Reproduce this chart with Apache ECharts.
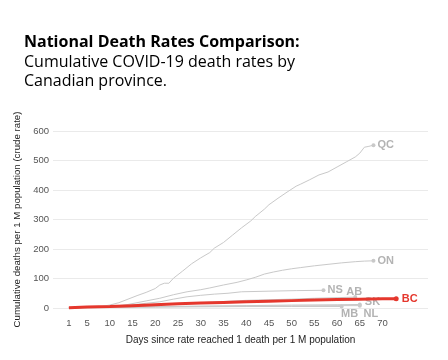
<!DOCTYPE html>
<html>
<head>
<meta charset="utf-8">
<script src="https://cdn.jsdelivr.net/npm/echarts@6/dist/echarts.min.js"></script>
<style>html,body{margin:0;padding:0;background:#fff}#c{width:448px;height:360px}</style>
</head>
<body>
<div id="c"></div>
<script>
// Data
const xTickLabels = [1, 5, 10, 15, 20, 25, 30, 35, 40, 45, 50, 55, 60, 65, 70];
const yTickLabels = [0, 100, 200, 300, 400, 500, 600];

const qcDays = [1, 5, 8, 10, 12, 14, 16, 18, 20, 21, 22, 23, 24, 26, 28, 30, 32, 33, 35, 37, 39, 41, 42, 44, 45, 47, 49, 51, 52, 54, 56, 58, 60, 62, 64, 65, 66, 67, 68];
const qcVals = [1, 2, 5, 10, 18, 30, 42, 53, 66, 78, 84, 84, 101, 125, 150, 170, 188, 203, 222, 247, 272, 295, 310, 335, 350, 372, 393, 413, 420, 435, 451, 461, 478, 495, 512, 525, 545, 548, 552];

const onDays = [1, 6, 10, 14, 18, 21, 24, 27, 30, 32, 35, 38, 40, 42, 44, 46, 48, 50, 52, 55, 58, 61, 64, 66, 68];
const onVals = [1, 2, 4, 12, 24, 33, 45, 55, 62, 68, 78, 87, 95, 104, 115, 122, 128, 133, 137, 143, 148, 153, 157, 159, 160];

const nsDays = [1, 6, 10, 14, 18, 21, 24, 27, 30, 33, 36, 39, 45, 51, 57];
const nsVals = [1, 2, 4, 9, 16, 21, 30, 38, 43, 47, 50, 55, 57, 59, 60];

const abDays = [1, 5, 10, 15, 20, 25, 30, 35, 40, 45, 50, 55, 60, 64];
const abVals = [1, 2, 4, 6, 10, 14, 18, 22, 26, 28, 30, 33, 35, 37];

const skDays = [1, 10, 20, 30, 40, 50, 60, 65];
const skVals = [1, 2, 4, 6, 8, 10, 11, 12];

const nlDays = [1, 10, 20, 30, 40, 50, 60, 65];
const nlVals = [1, 3, 5, 6, 7, 7, 8, 8];

const mbDays = [1, 10, 20, 30, 40, 50, 61];
const mbVals = [1, 2, 3, 4, 5, 5, 5];

const bcDays = [1, 5, 10, 15, 20, 25, 30, 35, 40, 45, 50, 55, 60, 65, 70, 73];
const bcVals = [1, 3, 5, 8, 11, 14, 17, 19, 21, 23, 25, 27, 29, 30, 31, 31];

const GRAY = '#c9c9c9';
const LABEL_GRAY = '#b3b3b3';
const RED = '#e5372d';

function mk(name, days, vals, color, width, labelCfg, z) {
  const data = days.map((d, i) => {
    const item = { value: [d, vals[i]] };
    if (i === days.length - 1) {
      item.symbolSize = name === 'BC' ? 5 : 4;
      item.label = Object.assign({
        show: true, formatter: name, position: 'right', distance: 2,
        color: name === 'BC' ? RED : LABEL_GRAY,
        fontFamily: 'Liberation Sans, Arial, sans-serif',
        fontSize: 11,
        fontWeight: 'bold'
      }, labelCfg || {});
    }
    return item;
  });
  return {
    name, type: 'line', data, clip: false, z: z || 2,
    symbol: 'circle', symbolSize: 0, showSymbol: true,
    itemStyle: { color },
    lineStyle: { color, width },
    emphasis: { disabled: true },
    animation: false
  };
}

const chart = echarts.init(document.getElementById('c'), null, { renderer: 'canvas' });
chart.setOption({
  backgroundColor: '#fff',
  animation: false,
  title: {
    left: 24, top: 32, padding: 0, itemGap: 1,
    text: 'National Death Rates Comparison:',
    textStyle: { fontFamily: 'Open Sans', fontSize: 16, fontWeight: 'bold', color: '#000', lineHeight: 20 },
    subtext: 'Cumulative COVID-19 death rates by\nCanadian province.',
    subtextStyle: { fontFamily: 'Open Sans', fontSize: 16, color: '#000', lineHeight: 19 }
  },
  grid: { left: 53, right: 20, top: 131, bottom: 52, containLabel: false },
  xAxis: {
    type: 'value', min: -2.5, max: 80,
    name: 'Days since rate reached 1 death per 1 M population',
    nameLocation: 'middle', nameGap: 27,
    nameTextStyle: { fontFamily: 'Liberation Sans, Arial', fontSize: 10, color: '#222' },
    axisLine: { show: false }, axisTick: { show: false },
    splitLine: { show: false },
    axisLabel: { customValues: xTickLabels, margin: 10, fontFamily: 'Liberation Sans, Arial', fontSize: 9.5, color: '#555' }
  },
  yAxis: {
    type: 'value', min: 0, max: 600, interval: 100,
    name: 'Cumulative deaths per 1 M population (crude rate)',
    nameLocation: 'middle', nameGap: 26,
    nameTextStyle: { fontFamily: 'Liberation Sans, Arial', fontSize: 9.7, color: '#222' },
    axisLine: { show: false }, axisTick: { show: false },
    splitLine: { show: true, lineStyle: { color: '#eaeaea', width: 1 } },
    axisLabel: { margin: 4, fontFamily: 'Liberation Sans, Arial', fontSize: 9.5, color: '#555',
      formatter: v => yTickLabels.indexOf(v) >= 0 ? String(v) : '' }
  },
  series: [
    mk('QC', qcDays, qcVals, GRAY, 1),
    mk('ON', onDays, onVals, GRAY, 1),
    mk('NS', nsDays, nsVals, GRAY, 1),
    mk('MB', mbDays, mbVals, GRAY, 1, { position: 'bottom', offset: [8, -2] }),
    mk('NL', nlDays, nlVals, GRAY, 1, { position: 'bottom', offset: [11, -1] }),
    mk('SK', skDays, skVals, GRAY, 1, { position: 'right', offset: [1, -2] }),
    mk('AB', abDays, abVals, GRAY, 1, { position: 'top', offset: [-1, 4] }),
    mk('BC', bcDays, bcVals, RED, 3, { distance: 3 }, 5)
  ]
});
</script>
</body>
</html>
